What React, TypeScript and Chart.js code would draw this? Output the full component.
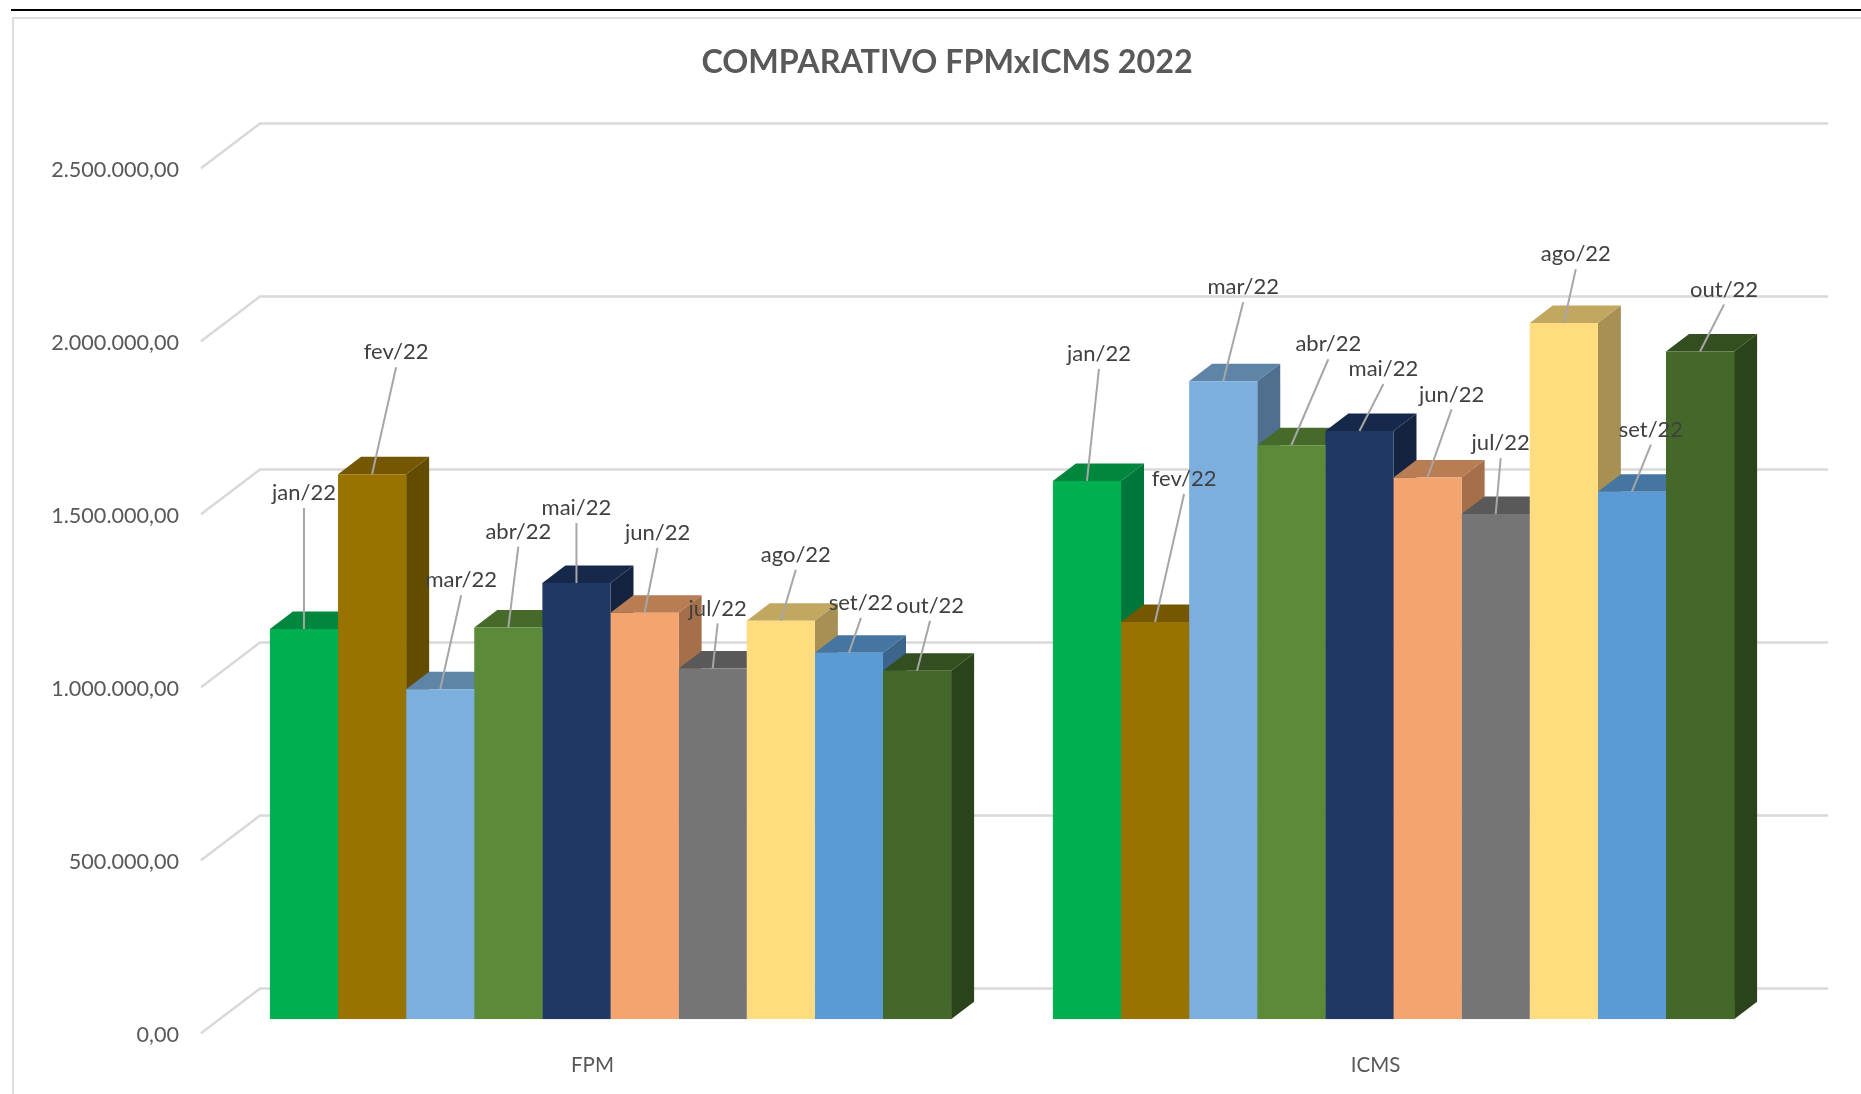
import React, { useEffect, useRef } from "react";
import { Chart, registerables } from "chart.js";

Chart.register(...registerables);

const categories = ["FPM", "ICMS"];
const months = ["jan/22", "fev/22", "mar/22", "abr/22", "mai/22", "jun/22", "jul/22", "ago/22", "set/22", "out/22"];
const fpmValues = [1128000, 1575000, 954000, 1132000, 1261000, 1175000, 1014000, 1152000, 1059000, 1007000];
const icmsValues = [1556000, 1148000, 1844000, 1659000, 1700000, 1566000, 1460000, 2012000, 1525000, 1930000];
const yTickLabels = ["0,00", "500.000,00", "1.000.000,00", "1.500.000,00", "2.000.000,00", "2.500.000,00"];

const frontColors = ["#00B050", "#997300", "#7CAFDE", "#5B8A38", "#1F3864", "#F4A46E", "#757575", "#FFDC7D", "#5B9BD5", "#44682A"];
const topColors = ["#00873D", "#745700", "#5E84A8", "#456A2A", "#17294B", "#B97D54", "#595959", "#C1A75F", "#4576A2", "#334E1F"];
const sideColors = ["#00773A", "#634B00", "#506F8F", "#3B5A24", "#142340", "#A56F4A", "#4C4C4C", "#A69054", "#3B658B", "#2B431A"];

// Manual placement of the callout text, relative to the top centre of each bar (pixels).
const calloutDx = [
  [0, 24, 21, 10, 0, 13, 5, 15, 12, 13],
  [12, 29, 20, 37, 24, 24, 5, 12, 19, 24],
];
const calloutDy = [
  [-136, -122, -109, -96, -75, -80, -60, -66, -50, -65],
  [-127, -143, -94, -101, -62, -83, -71, -69, -62, -62],
];

const FONT = "Lato, Carlito, sans-serif";
const DEPTH_DX = 23;
const DEPTH_DY = 17.5;

const threeD = {
  id: "threeD",
  beforeDatasetsDraw(chart: any) {
    const ctx = chart.ctx;
    const y = chart.scales.y;
    ctx.save();
    ctx.strokeStyle = "#D9D9D9";
    ctx.lineWidth = 2.5;
    ctx.lineJoin = "miter";
    y.ticks.forEach((t: any) => {
      const p = y.getPixelForValue(t.value);
      ctx.beginPath();
      ctx.moveTo(201, p + 14);
      ctx.lineTo(260, p - 30.8);
      ctx.lineTo(1828, p - 30.8);
      ctx.stroke();
    });
    categories.forEach((_c, ci) => {
      months.forEach((_m, di) => {
        const b = chart.getDatasetMeta(di).data[ci];
        const l = b.x - b.width / 2;
        const r = b.x + b.width / 2;
        ctx.fillStyle = topColors[di];
        ctx.beginPath();
        ctx.moveTo(l, b.y);
        ctx.lineTo(l + DEPTH_DX, b.y - DEPTH_DY);
        ctx.lineTo(r + DEPTH_DX, b.y - DEPTH_DY);
        ctx.lineTo(r, b.y);
        ctx.closePath();
        ctx.fill();
        ctx.fillStyle = sideColors[di];
        ctx.beginPath();
        ctx.moveTo(r, b.y);
        ctx.lineTo(r + DEPTH_DX, b.y - DEPTH_DY);
        ctx.lineTo(r + DEPTH_DX, b.base - DEPTH_DY);
        ctx.lineTo(r, b.base);
        ctx.closePath();
        ctx.fill();
      });
    });
    ctx.restore();
  },
  afterDatasetsDraw(chart: any) {
    const ctx = chart.ctx;
    ctx.save();
    ctx.font = `22px ${FONT}`;
    ctx.textAlign = "center";
    ctx.textBaseline = "middle";
    categories.forEach((_c, ci) => {
      months.forEach((m, di) => {
        const b = chart.getDatasetMeta(di).data[ci];
        const tx = b.x + calloutDx[ci][di];
        const ty = b.y + calloutDy[ci][di];
        ctx.strokeStyle = "#A6A6A6";
        ctx.lineWidth = 2;
        ctx.beginPath();
        ctx.moveTo(b.x, b.y);
        ctx.lineTo(tx, ty + 15);
        ctx.stroke();
        ctx.fillStyle = "#404040";
        ctx.fillText(m, tx, ty);
      });
    });
    ctx.restore();
  },
};

export default function App() {
  const ref = useRef<HTMLCanvasElement>(null);
  useEffect(() => {
    const chart = new Chart(ref.current as any, {
      type: "bar",
      plugins: [threeD],
      data: {
        labels: categories,
        datasets: months.map((m, i) => ({
          label: m,
          data: [fpmValues[i], icmsValues[i]],
          backgroundColor: frontColors[i],
          borderWidth: 0,
          barPercentage: 1,
          categoryPercentage: 0.87,
        })),
      },
      options: {
        responsive: false,
        animation: false,
        layout: { padding: { left: 40, right: 7, top: 0, bottom: 0 } },
        plugins: {
          legend: { display: false },
          tooltip: { enabled: false },
          title: {
            display: true,
            text: "COMPARATIVO FPMxICMS 2022",
            color: "#595959",
            font: { family: FONT, size: 32.3, weight: "bold", lineHeight: 1.2 },
            padding: { top: 43.6, bottom: 71.9 },
          },
        },
        scales: {
          x: {
            grid: { display: false },
            border: { display: false },
            ticks: { color: "#595959", font: { family: FONT, size: 20.5 }, labelOffset: -18, padding: 26, maxRotation: 0 },
            afterFit: (s: any) => { s.height = 74.7; },
          },
          y: {
            min: 0,
            max: 2500000,
            grid: { display: false, drawTicks: false },
            border: { display: false },
            ticks: {
              stepSize: 500000,
              autoSkip: false,
              color: "#595959",
              font: { family: FONT, size: 21.6 },
              padding: 40,
              labelOffset: 16,
              callback: (_v: any, i: number) => yTickLabels[i],
            },
            afterFit: (s: any) => { s.width = 179; },
          },
          y2: {
            position: "right",
            grid: { display: false },
            border: { display: false },
            ticks: { display: false },
            afterFit: (s: any) => { s.width = 69; },
          },
        },
      } as any,
    } as any);
    return () => chart.destroy();
  }, []);
  return (
    <div style={{ position: "absolute", left: 0, top: 0, width: 1861, height: 1094, overflow: "hidden", background: "#fff" }}>
      <canvas ref={ref} width={1861} height={1094} style={{ position: "absolute", left: 0, top: 0, display: "block" }} />
      <div style={{ position: "absolute", left: 11, top: 9, right: 0, height: 2, background: "#000" }} />
      <div style={{ position: "absolute", left: 12, top: 17, right: 0, bottom: 0, borderLeft: "2px solid #DEDEDE", borderTop: "2px solid #DEDEDE" }} />
    </div>
  );
}
